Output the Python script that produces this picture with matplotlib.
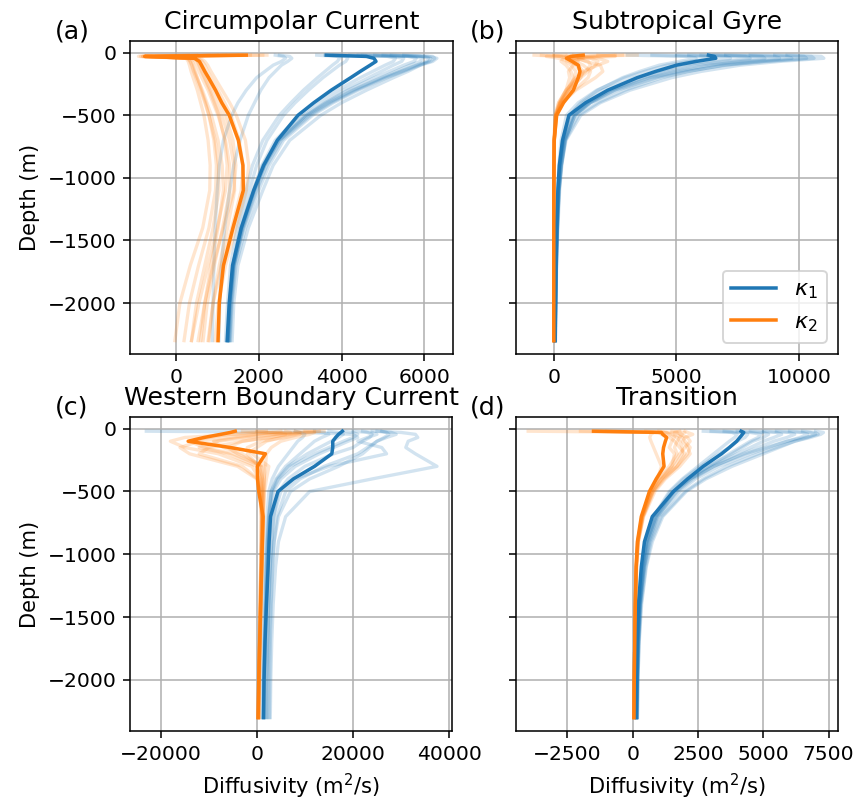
import matplotlib
matplotlib.use("Agg")
import matplotlib.pyplot as plt
import numpy as np

# ---------------- data ----------------
depth = [20, 30, 45, 70, 100, 150, 200, 300, 400, 500, 700, 900, 1100, 1400, 1700, 2000, 2300]

titles = ["Circumpolar Current", "Subtropical Gyre", "Western Boundary Current", "Transition"]
panel_tags = ["(a)", "(b)", "(c)", "(d)"]

# (a) Circumpolar Current
a_k1_mean = [3630, 4600, 4780, 4830, 4690, 4450, 4220, 3750, 3330, 2950, 2450, 2120, 1880, 1580, 1370, 1290, 1240]
a_k2_mean = [1700, -750, 450, 570, 620, 700, 790, 960, 1110, 1290, 1510, 1620, 1630, 1380, 1150, 1050, 1020]
a_k1_members = [
    [2400, 2600, 2650, 2550, 2350, 2150, 1950, 1700, 1500, 1350, 1150, 1050, 1000, 950, 920, 900, 880],
    [2500, 2750, 2800, 2700, 2550, 2400, 2250, 2050, 1900, 1750, 1550, 1400, 1300, 1180, 1100, 1060, 1040],
    [3400, 3900, 3950, 3900, 3780, 3600, 3420, 3080, 2780, 2500, 2100, 1850, 1700, 1480, 1320, 1250, 1200],
    [3600, 4100, 4150, 4100, 3950, 3750, 3550, 3200, 2880, 2600, 2200, 1950, 1780, 1550, 1380, 1300, 1260],
    [4500, 5600, 5800, 5750, 5500, 5150, 4800, 4150, 3600, 3150, 2500, 2150, 1920, 1620, 1400, 1320, 1280],
    [5000, 6100, 6300, 6200, 5900, 5500, 5100, 4400, 3800, 3300, 2600, 2250, 2000, 1680, 1450, 1360, 1320],
    [4800, 5900, 6100, 6050, 5800, 5400, 5000, 4300, 3700, 3200, 2500, 2150, 1900, 1600, 1400, 1310, 1270],
    [5500, 6200, 6250, 6150, 5850, 5450, 5050, 4350, 3750, 3250, 2550, 2200, 1950, 1640, 1420, 1340, 1300],
    [4200, 5200, 5500, 5450, 5250, 4950, 4650, 4050, 3550, 3100, 2450, 2100, 1880, 1590, 1390, 1300, 1260],
    [5200, 6000, 6150, 6100, 5900, 5600, 5250, 4600, 4000, 3500, 2750, 2350, 2100, 1750, 1500, 1400, 1360],
    [3800, 5100, 5300, 5250, 5050, 4750, 4450, 3900, 3400, 3000, 2400, 2080, 1860, 1570, 1380, 1300, 1260],
    [4400, 5700, 5950, 5900, 5650, 5300, 4950, 4250, 3650, 3150, 2480, 2130, 1900, 1610, 1410, 1330, 1290],
]
a_k2_members = [
    [1200, -900, 250, 300, 330, 370, 420, 520, 600, 680, 780, 830, 820, 650, 350, 100, -20],
    [800, -800, 350, 400, 430, 470, 520, 620, 720, 800, 920, 980, 960, 800, 550, 330, 200],
    [2100, -600, 450, 520, 560, 620, 690, 820, 930, 1040, 1180, 1240, 1200, 1000, 780, 560, 380],
    [1500, -700, 500, 580, 630, 700, 780, 930, 1070, 1200, 1380, 1450, 1400, 1150, 900, 700, 540],
    [300, -850, 400, 470, 510, 560, 630, 780, 900, 1020, 1200, 1300, 1300, 1130, 930, 760, 660],
    [1800, -500, 550, 640, 700, 770, 850, 1020, 1180, 1330, 1530, 1620, 1580, 1350, 1100, 900, 780],
    [1000, -750, 300, 360, 400, 450, 510, 640, 750, 860, 1020, 1120, 1150, 1020, 850, 700, 600],
    [2200, -650, 600, 700, 770, 850, 940, 1120, 1300, 1460, 1680, 1760, 1700, 1450, 1200, 1030, 950],
    [500, -800, 280, 340, 380, 430, 490, 600, 700, 800, 950, 1030, 1040, 900, 700, 500, 380],
    [1600, -700, 480, 550, 590, 640, 710, 850, 980, 1110, 1300, 1400, 1420, 1250, 1050, 900, 800],
]

# (b) Subtropical Gyre
b_k1_mean = [6300, 6550, 6600, 5800, 5000, 4150, 3400, 2200, 1300, 620, 360, 230, 170, 120, 90, 70, 55]
b_k2_mean = [1200, 700, 520, 750, 1000, 1070, 1000, 800, 400, 120, 20, 10, 5, 5, 5, 5, 5]
b_k1_members = [
    [9500, 10900, 11000, 9200, 7600, 6000, 4800, 3100, 1900, 1100, 500, 320, 220, 150, 110, 90, 70],
    [8000, 10500, 10600, 8700, 7000, 5400, 4200, 2600, 1500, 800, 400, 260, 190, 130, 100, 80, 60],
    [6000, 8500, 8600, 7200, 5900, 4700, 3700, 2300, 1400, 800, 420, 280, 200, 140, 100, 80, 60],
    [5000, 7000, 7200, 6200, 5200, 4200, 3300, 2000, 1200, 650, 350, 240, 180, 130, 95, 75, 55],
    [4000, 6200, 6400, 5500, 4600, 3700, 2900, 1750, 1000, 520, 300, 210, 160, 120, 90, 70, 50],
    [7000, 9500, 9700, 8100, 6600, 5200, 4000, 2500, 1500, 850, 450, 300, 210, 150, 110, 85, 65],
    [3000, 5500, 5800, 5100, 4300, 3500, 2800, 1800, 1100, 650, 380, 260, 190, 140, 100, 80, 60],
    [9000, 10200, 10300, 8500, 6900, 5500, 4400, 2900, 1800, 1000, 480, 310, 220, 150, 110, 85, 65],
    [5500, 7800, 8000, 6800, 5600, 4500, 3600, 2300, 1450, 850, 470, 330, 240, 170, 120, 90, 70],
    [6500, 9000, 9200, 7700, 6300, 5000, 3900, 2450, 1500, 880, 460, 310, 220, 155, 110, 85, 65],
]
b_k2_members = [
    [3400, 500, 1500, 1800, 1700, 1400, 1100, 600, 250, 80, 20, 10, 5, 5, 5, 5, 5],
    [-800, 200, 800, 1400, 1500, 1300, 1000, 500, 200, 60, 15, 10, 5, 5, 5, 5, 5],
    [1800, 2500, 900, 500, 700, 900, 850, 550, 250, 80, 20, 10, 5, 5, 5, 5, 5],
    [500, -300, 200, 600, 1000, 1200, 1100, 700, 300, 90, 20, 10, 5, 5, 5, 5, 5],
    [2500, 1200, 1000, 1300, 1900, 2000, 1700, 900, 350, 100, 25, 10, 5, 5, 5, 5, 5],
    [0, 800, 400, 300, 500, 700, 800, 650, 350, 120, 30, 10, 5, 5, 5, 5, 5],
    [1200, 600, 1800, 2200, 1800, 1200, 900, 500, 200, 60, 15, 10, 5, 5, 5, 5, 5],
    [-500, 300, 600, 900, 1200, 1500, 1400, 850, 350, 110, 25, 10, 5, 5, 5, 5, 5],
    [2800, 1500, 700, 1000, 800, 600, 650, 500, 250, 80, 20, 10, 5, 5, 5, 5, 5],
    [800, 1000, 1200, 700, 900, 1100, 1000, 600, 280, 90, 20, 10, 5, 5, 5, 5, 5],
]

# (c) Western Boundary Current
c_k1_mean = [17800, 17500, 17000, 16400, 15800, 15800, 15600, 12000, 7600, 4400, 2850, 2550, 2350, 2000, 1700, 1500, 1400]
c_k2_mean = [-4500, -5500, -7500, -11000, -14300, -5500, 1800, 100, 150, 400, 1300, 1150, 1000, 800, 600, 400, 250]
c_k1_members = [
    [24000, 30000, 33000, 33500, 31500, 31000, 33000, 37500, 24000, 11000, 6000, 4500, 3900, 3400, 3100, 2900, 2800],
    [26000, 27000, 27500, 26500, 25000, 23500, 22000, 17000, 11000, 7000, 4500, 3600, 3200, 2800, 2500, 2300, 2200],
    [22000, 24000, 25000, 23000, 21000, 26000, 27000, 15000, 8000, 5000, 3500, 3000, 2700, 2400, 2200, 2000, 1900],
    [-23000, 10000, 20000, 21000, 19000, 16000, 13000, 8000, 5000, 3500, 2800, 2500, 2300, 2000, 1800, 1600, 1500],
    [12000, 14000, 15000, 13500, 12000, 10500, 9000, 6000, 4000, 3000, 2500, 2200, 2000, 1800, 1600, 1400, 1300],
    [18000, 20000, 21000, 20000, 18000, 15000, 12000, 7000, 4500, 3200, 2600, 2300, 2100, 1900, 1700, 1500, 1400],
    [8000, 9000, 10000, 9500, 8500, 7500, 6500, 4500, 3200, 2500, 2100, 1900, 1700, 1500, 1300, 1200, 1100],
    [20000, 23000, 24000, 23500, 22000, 20000, 16000, 10000, 6500, 4500, 3500, 3100, 2800, 2500, 2300, 2100, 2000],
    [15000, 17000, 18000, 17000, 15500, 13000, 10500, 6500, 4200, 3000, 2400, 2100, 1900, 1700, 1500, 1400, 1300],
    [25000, 28000, 29000, 27000, 25000, 23000, 21000, 14000, 9000, 6000, 4200, 3600, 3300, 3000, 2800, 2700, 2600],
]
c_k2_members = [
    [12000, 5000, -5000, -15000, -18000, -15000, -8000, -1000, 500, 800, 900, 850, 800, 650, 500, 350, 250],
    [14000, 10000, 4000, -2000, -8000, -12000, -6000, 0, 800, 1000, 1100, 1000, 900, 750, 600, 450, 350],
    [-3000, 2000, 6000, 3000, -3000, -10000, -12000, -3000, 200, 700, 1000, 950, 850, 700, 550, 400, 300],
    [8000, 9000, 8000, 5000, 2000, 0, -2000, 500, 1200, 1300, 1300, 1200, 1100, 900, 700, 550, 450],
    [5000, 3000, 0, -6000, -12000, -16000, -14000, -4000, 0, 600, 900, 900, 800, 650, 500, 380, 280],
    [10000, 12000, 11000, 8000, 5000, 3000, 2000, 1800, 1500, 1400, 1300, 1200, 1050, 850, 650, 500, 400],
    [2000, -1000, -6000, -10000, -14000, -11000, -5000, 1000, 1100, 1100, 1100, 1000, 900, 750, 600, 450, 350],
    [13000, 11000, 7000, 2000, -3000, -6000, -4000, 1500, 1600, 1500, 1300, 1150, 1000, 800, 650, 500, 400],
    [0, 4000, 9000, 6000, 1000, -2000, -1000, 2500, 2000, 1600, 1400, 1250, 1100, 900, 700, 550, 450],
    [6000, 7000, 3000, -4000, -9000, -7000, -3000, 800, 900, 1000, 1000, 950, 850, 700, 550, 420, 320],
]

# (d) Transition
d_k1_mean = [4150, 4250, 4200, 4100, 3980, 3700, 3400, 2700, 2100, 1560, 750, 450, 330, 220, 170, 150, 130]
d_k2_mean = [-1500, 1100, 1150, 1300, 1250, 1180, 1150, 1200, 900, 640, 330, 180, 130, 100, 80, 60, 50]
d_k1_members = [
    [7000, 7300, 7200, 6800, 6200, 5500, 4800, 3600, 2700, 2000, 1100, 700, 500, 320, 240, 200, 180],
    [5500, 6500, 6700, 6400, 5900, 5200, 4500, 3300, 2400, 1800, 1000, 650, 460, 300, 230, 190, 170],
    [3000, 4500, 4900, 4800, 4500, 4100, 3700, 2900, 2200, 1650, 950, 600, 430, 290, 220, 180, 160],
    [4500, 5500, 5700, 5400, 5000, 4500, 4000, 3000, 2200, 1600, 900, 560, 400, 270, 200, 170, 150],
    [2700, 3800, 4000, 3900, 3700, 3400, 3100, 2500, 1900, 1400, 800, 500, 360, 250, 190, 160, 140],
    [6500, 7000, 7100, 6600, 5900, 5100, 4300, 3100, 2200, 1550, 850, 530, 380, 260, 200, 170, 150],
    [3500, 4200, 4400, 4300, 4000, 3700, 3300, 2600, 1950, 1450, 820, 520, 370, 250, 190, 160, 140],
    [5000, 6000, 6200, 5900, 5400, 4800, 4200, 3100, 2300, 1700, 950, 620, 440, 290, 220, 180, 160],
    [6000, 6800, 7000, 6700, 6200, 5600, 5000, 3800, 2800, 2050, 1150, 750, 520, 340, 250, 200, 180],
    [4000, 5000, 5200, 5000, 4600, 4200, 3800, 2900, 2100, 1550, 880, 560, 400, 270, 210, 170, 150],
]
d_k2_members = [
    [-4000, 1200, 1500, 1700, 1800, 1900, 1900, 1600, 1100, 750, 380, 200, 140, 100, 80, 60, 50],
    [1500, 2000, 1800, 2100, 2200, 2000, 1800, 1500, 1000, 700, 350, 190, 130, 100, 80, 60, 50],
    [500, 1000, 1100, 1400, 1600, 1800, 2000, 1700, 1200, 800, 400, 210, 150, 110, 80, 60, 50],
    [1800, 1600, 1900, 1800, 1700, 1600, 1700, 1400, 1000, 700, 350, 190, 130, 100, 80, 60, 50],
    [-2000, 800, 700, 650, 700, 800, 900, 1100, 950, 700, 360, 200, 140, 100, 80, 60, 50],
    [2000, 2100, 2300, 2000, 1900, 2100, 2200, 1800, 1250, 850, 420, 220, 150, 110, 80, 60, 50],
    [1000, 1300, 1400, 1600, 1500, 1400, 1600, 1500, 1100, 760, 380, 200, 140, 100, 80, 60, 50],
    [-1000, 1700, 1600, 1900, 2000, 2200, 2100, 1700, 1150, 780, 390, 210, 140, 100, 80, 60, 50],
]

panels = [
    (a_k1_mean, a_k2_mean, a_k1_members, a_k2_members),
    (b_k1_mean, b_k2_mean, b_k1_members, b_k2_members),
    (c_k1_mean, c_k2_mean, c_k1_members, c_k2_members),
    (d_k1_mean, d_k2_mean, d_k1_members, d_k2_members),
]

xlims = [(-1104, 6688), (-1535, 11576), (-26400, 40620), (-4466, 7857)]
xticks = [[0, 2000, 4000, 6000], [0, 5000, 10000], [-20000, 0, 20000, 40000],
          [-2500, 0, 2500, 5000, 7500]]

# ---------------- figure ----------------
W, H, DPI = 864, 799, 140
fig = plt.figure(figsize=(W / DPI, H / DPI), dpi=DPI)

boxes = [(130, 41, 453, 354), (516, 41, 838, 354), (130, 417, 452, 731), (516, 417, 838, 731)]
tag_x = [55, 470, 55, 470]
blue, orange = "#1f77b4", "#ff7f0e"
z = -np.array(depth)

axes = []
for i, (box, (k1m, k2m, k1s, k2s)) in enumerate(zip(boxes, panels)):
    l, t, r, b = box
    ax = fig.add_axes([l / W, 1 - b / H, (r - l) / W, (b - t) / H])
    axes.append(ax)
    for prof in k1s:
        ax.plot(prof, z, color=blue, alpha=0.2, lw=1.7)
    for prof in k2s:
        ax.plot(prof, z, color=orange, alpha=0.2, lw=1.7)
    ax.plot(k1m, z, color=blue, lw=1.8, label=r"$\kappa_1$")
    ax.plot(k2m, z, color=orange, lw=1.8, label=r"$\kappa_2$")
    ax.set_xlim(*xlims[i])
    ax.set_xticks(xticks[i])
    ax.set_ylim(-2407, 93)
    ax.set_yticks([-2000, -1500, -1000, -500, 0])
    ax.grid(True, color="#b0b0b0", lw=0.8)
    ax.set_axisbelow(True)
    ax.tick_params(labelsize=10.4)
    ax.set_title(titles[i], fontsize=13)
    if i % 2 == 0:
        ax.set_ylabel("Depth (m)", fontsize=10.8)
    else:
        ax.set_yticklabels([])
    if i >= 2:
        ax.set_xlabel(r"Diffusivity (m$^2$/s)", fontsize=10.8)
    fig.text(tag_x[i] / W, 1 - (t - 9) / H, panel_tags[i], fontsize=13, ha="left", va="center")

axes[1].legend(loc="lower right", fontsize=11.5)

fig.savefig("out.png", dpi=DPI)
